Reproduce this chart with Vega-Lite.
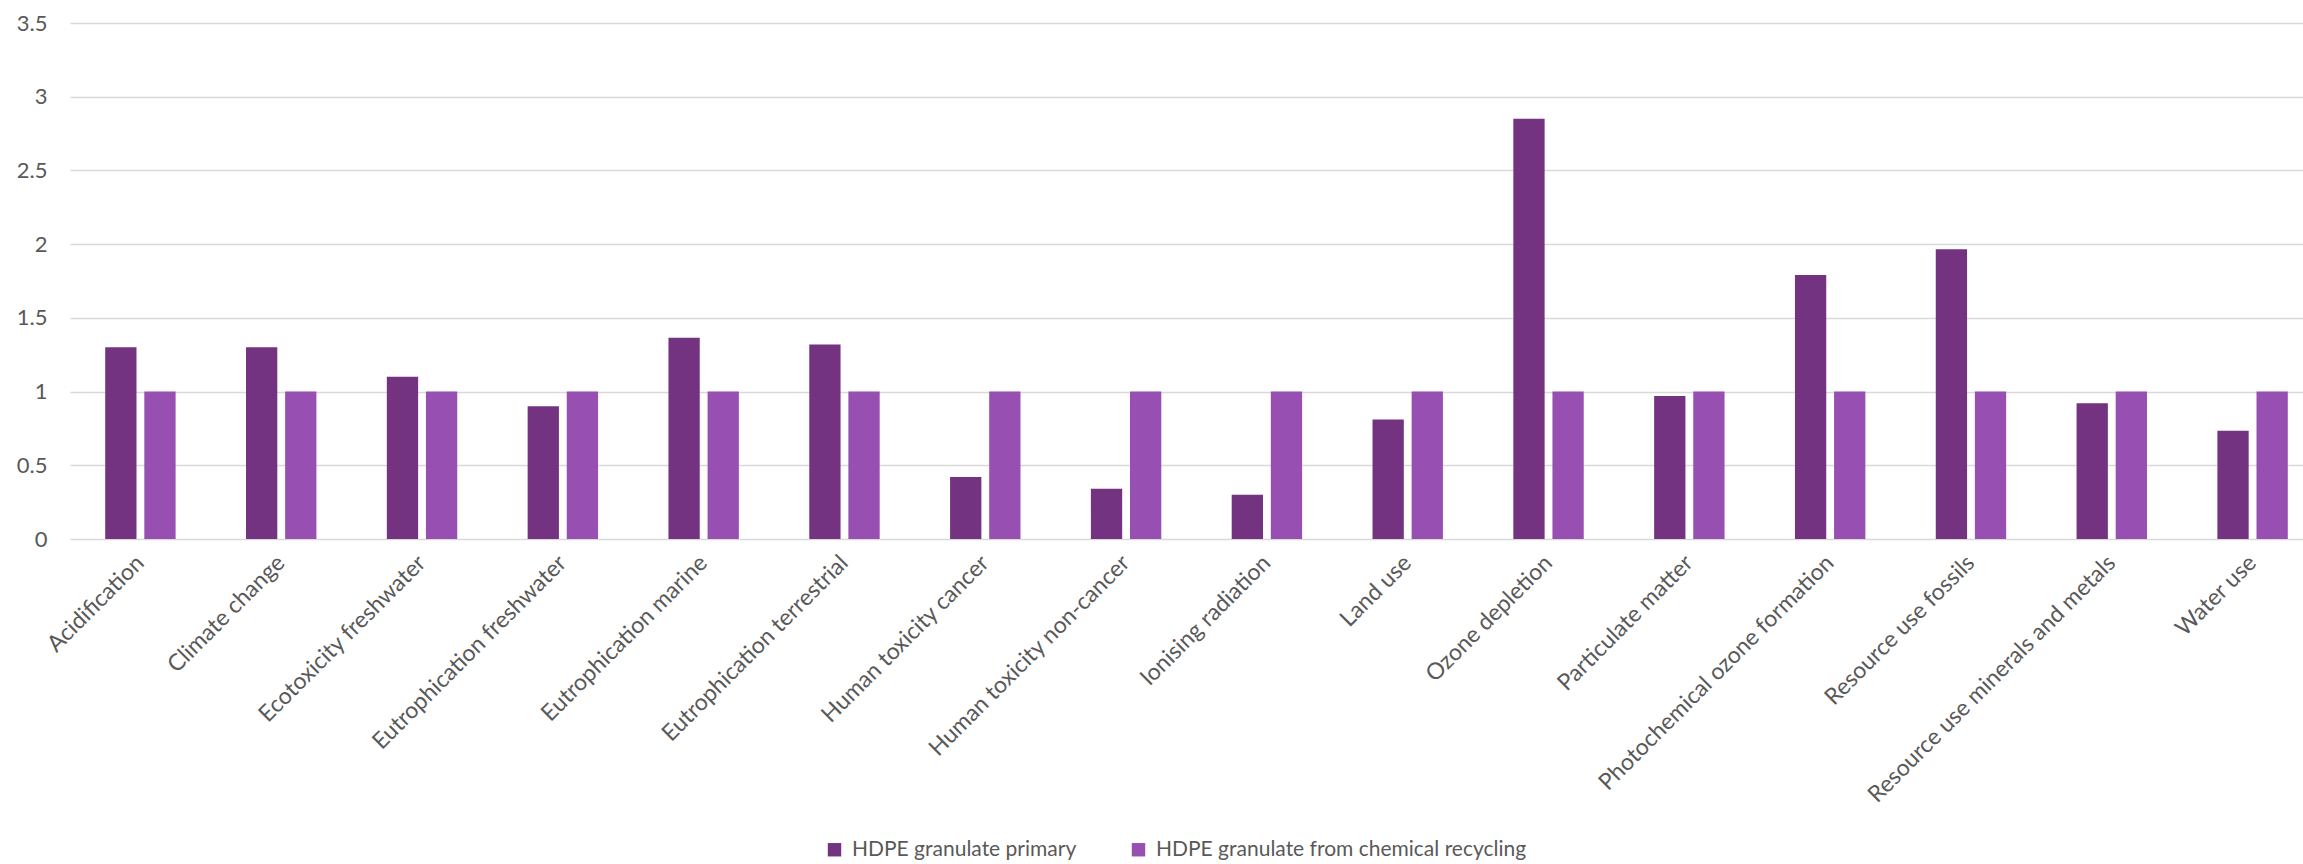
{
  "$schema": "https://vega.github.io/schema/vega-lite/v6.json",
  "autosize": {"type": "none"},
  "padding": {"left": 70, "top": 23, "right": 0, "bottom": 325},
  "width": 2253,
  "height": 516,
  "background": "#ffffff",
  "config": {
    "view": {"stroke": null},
    "font": "Lato",
    "axis": {"labelColor": "#595959", "labelFont": "Lato", "labelFontSize": 22, "titleColor": "#595959"},
    "legend": {"labelColor": "#595959", "labelFont": "Lato", "labelFontSize": 21}
  },
  "data": {
    "values": [
      {"category": "Acidification", "series": "HDPE granulate primary", "value": 1.30},
      {"category": "Acidification", "series": "HDPE granulate from chemical recycling", "value": 1.0},
      {"category": "Climate change", "series": "HDPE granulate primary", "value": 1.30},
      {"category": "Climate change", "series": "HDPE granulate from chemical recycling", "value": 1.0},
      {"category": "Ecotoxicity freshwater", "series": "HDPE granulate primary", "value": 1.10},
      {"category": "Ecotoxicity freshwater", "series": "HDPE granulate from chemical recycling", "value": 1.0},
      {"category": "Eutrophication freshwater", "series": "HDPE granulate primary", "value": 0.90},
      {"category": "Eutrophication freshwater", "series": "HDPE granulate from chemical recycling", "value": 1.0},
      {"category": "Eutrophication marine", "series": "HDPE granulate primary", "value": 1.365},
      {"category": "Eutrophication marine", "series": "HDPE granulate from chemical recycling", "value": 1.0},
      {"category": "Eutrophication terrestrial", "series": "HDPE granulate primary", "value": 1.32},
      {"category": "Eutrophication terrestrial", "series": "HDPE granulate from chemical recycling", "value": 1.0},
      {"category": "Human toxicity cancer", "series": "HDPE granulate primary", "value": 0.42},
      {"category": "Human toxicity cancer", "series": "HDPE granulate from chemical recycling", "value": 1.0},
      {"category": "Human toxicity non-cancer", "series": "HDPE granulate primary", "value": 0.34},
      {"category": "Human toxicity non-cancer", "series": "HDPE granulate from chemical recycling", "value": 1.0},
      {"category": "Ionising radiation", "series": "HDPE granulate primary", "value": 0.30},
      {"category": "Ionising radiation", "series": "HDPE granulate from chemical recycling", "value": 1.0},
      {"category": "Land use", "series": "HDPE granulate primary", "value": 0.81},
      {"category": "Land use", "series": "HDPE granulate from chemical recycling", "value": 1.0},
      {"category": "Ozone depletion", "series": "HDPE granulate primary", "value": 2.85},
      {"category": "Ozone depletion", "series": "HDPE granulate from chemical recycling", "value": 1.0},
      {"category": "Particulate matter", "series": "HDPE granulate primary", "value": 0.97},
      {"category": "Particulate matter", "series": "HDPE granulate from chemical recycling", "value": 1.0},
      {"category": "Photochemical ozone formation", "series": "HDPE granulate primary", "value": 1.79},
      {"category": "Photochemical ozone formation", "series": "HDPE granulate from chemical recycling", "value": 1.0},
      {"category": "Resource use fossils", "series": "HDPE granulate primary", "value": 1.965},
      {"category": "Resource use fossils", "series": "HDPE granulate from chemical recycling", "value": 1.0},
      {"category": "Resource use minerals and metals", "series": "HDPE granulate primary", "value": 0.92},
      {"category": "Resource use minerals and metals", "series": "HDPE granulate from chemical recycling", "value": 1.0},
      {"category": "Water use", "series": "HDPE granulate primary", "value": 0.735},
      {"category": "Water use", "series": "HDPE granulate from chemical recycling", "value": 1.0}
    ]
  },
  "mark": {"type": "bar"},
  "encoding": {
    "x": {
      "field": "category",
      "type": "nominal",
      "sort": null,
      "scale": {"paddingInner": 0, "paddingOuter": 0},
      "axis": {
        "title": null,
        "domain": false,
        "ticks": false,
        "grid": false,
        "labelAngle": -45,
        "labelAlign": "right",
        "labelBaseline": "middle",
        "labelPadding": 20,
        "labelFontSize": 23,
        "labelLimit": 0
      }
    },
    "xOffset": {
      "field": "series",
      "type": "nominal",
      "sort": ["HDPE granulate primary", "HDPE granulate from chemical recycling"],
      "scale": {"paddingInner": 0.2, "paddingOuter": 0.9}
    },
    "y": {
      "field": "value",
      "type": "quantitative",
      "scale": {"domain": [0, 3.5], "nice": false},
      "axis": {
        "title": null,
        "values": [0, 0.5, 1, 1.5, 2, 2.5, 3, 3.5],
        "format": "~g",
        "domain": false,
        "ticks": false,
        "gridColor": "#D9D9D9",
        "gridWidth": 1.5,
        "labelPadding": 23
      }
    },
    "color": {
      "field": "series",
      "type": "nominal",
      "sort": ["HDPE granulate primary", "HDPE granulate from chemical recycling"],
      "scale": {
        "domain": ["HDPE granulate primary", "HDPE granulate from chemical recycling"],
        "range": ["#733380", "#9750B1"]
      },
      "legend": {
        "title": null,
        "orient": "none",
        "direction": "horizontal",
        "legendX": 754,
        "legendY": 816,
        "symbolType": "square",
        "symbolSize": 180,
        "symbolStrokeWidth": 0,
        "labelOffset": 7,
        "labelLimit": 0,
        "columnPadding": 51,
        "padding": 0
      }
    }
  }
}
